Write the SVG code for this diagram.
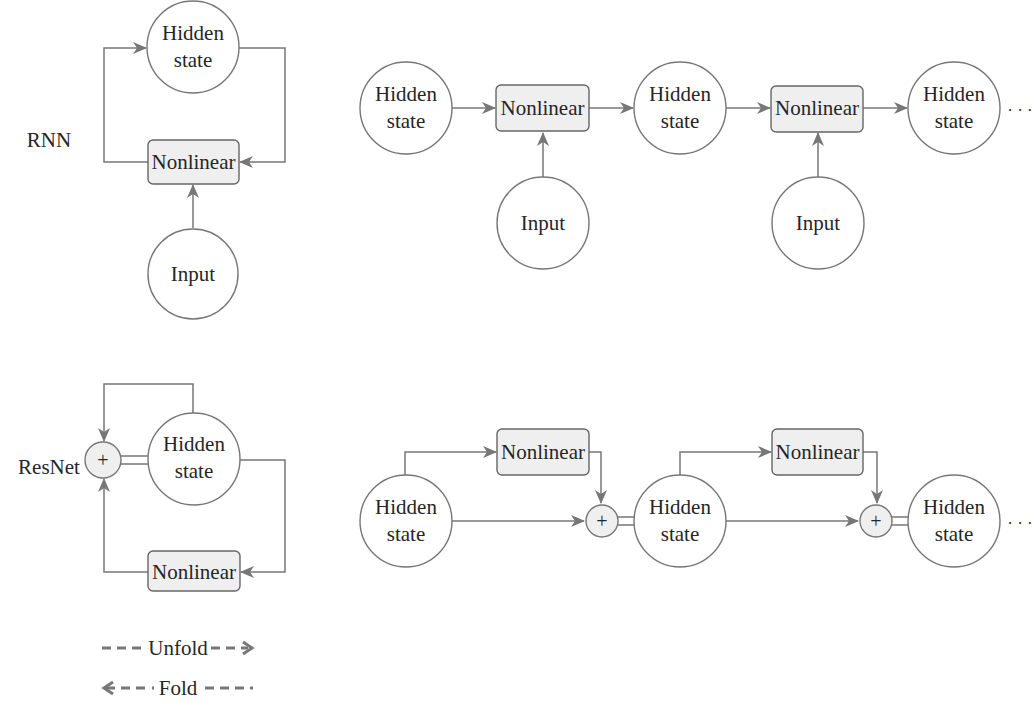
<svg xmlns="http://www.w3.org/2000/svg" width="1034" height="703" viewBox="0 0 1034 703">
<style>
.c{fill:#fff;stroke:#777;stroke-width:1.4}
.b{fill:#efefef;stroke:#666;stroke-width:1.4}
.p{fill:#efefef;stroke:#777;stroke-width:1.4}
.t{font-family:'Liberation Serif','DejaVu Serif','Times New Roman',serif;font-size:21px;fill:#262626;text-anchor:middle}
.l{fill:none;stroke:#777;stroke-width:1.5}
.d{fill:none;stroke:#777;stroke-width:3;stroke-dasharray:9 6}
</style>
<defs>
<marker id="ah" markerWidth="14" markerHeight="12" refX="13" refY="6" orient="auto" markerUnits="userSpaceOnUse">
<path d="M0,0 L14,6 L0,12 L4,6 Z" fill="#777"/>
</marker>
</defs>
<rect width="1034" height="703" fill="#fff"/>
<g id="connectors">
<path class="l" d="M148,162 H104 V48 H146" marker-end="url(#ah)"/>
<path class="l" d="M239,48 H285 V162 H240" marker-end="url(#ah)"/>
<path class="l" d="M193,228 V185" marker-end="url(#ah)"/>
<path class="l" d="M193,413 V384 H104 V441" marker-end="url(#ah)"/>
<path class="l" d="M240,460 H285 V572 H241" marker-end="url(#ah)"/>
<path class="l" d="M148,572 H104 V479" marker-end="url(#ah)"/>
<path class="l" d="M121,456 H149 M121,464 H149"/>
<path class="l" d="M452,108 H495" marker-end="url(#ah)"/>
<path class="l" d="M589,108 H633" marker-end="url(#ah)"/>
<path class="l" d="M543,177 V133" marker-end="url(#ah)"/>
<path class="l" d="M726,108 H770" marker-end="url(#ah)"/>
<path class="l" d="M863,108 H907" marker-end="url(#ah)"/>
<path class="l" d="M818,177 V133" marker-end="url(#ah)"/>
<path class="l" d="M405,475 V452 H496" marker-end="url(#ah)"/>
<path class="l" d="M589,452 H601 V503" marker-end="url(#ah)"/>
<path class="l" d="M452,521 H584" marker-end="url(#ah)"/>
<path class="l" d="M618,517 H635 M618,525 H635"/>
<path class="l" d="M680,475 V452 H771" marker-end="url(#ah)"/>
<path class="l" d="M863,452 H877 V503" marker-end="url(#ah)"/>
<path class="l" d="M726,521 H858" marker-end="url(#ah)"/>
<path class="l" d="M892,517 H909 M892,525 H909"/>
</g>
<g id="label-rnn"><text class="t" font-family="Liberation Serif" x="49" y="147">RNN</text></g>
<g id="label-resnet"><text class="t" font-family="Liberation Serif" x="49" y="474">ResNet</text></g>
<g id="rnn-hidden"><circle class="c" cx="193" cy="47" r="46"/><text class="t" x="193" y="40">Hidden</text><text class="t" x="193" y="67">state</text></g>
<g id="rnn-nonlinear"><rect class="b" x="148" y="140" width="91" height="44" rx="5"/><text class="t" x="193.5" y="169">Nonlinear</text></g>
<g id="rnn-input"><circle class="c" cx="193" cy="274" r="45"/><text class="t" x="193" y="281">Input</text></g>
<g id="res-plus"><circle class="p" cx="103" cy="460" r="18"/><text class="t" x="103" y="467" style="font-size:20px">+</text></g>
<g id="res-hidden"><circle class="c" cx="194" cy="459" r="46"/><text class="t" x="194" y="451">Hidden</text><text class="t" x="194" y="478">state</text></g>
<g id="res-nonlinear"><rect class="b" x="148" y="551" width="92" height="40" rx="5"/><text class="t" x="194" y="579">Nonlinear</text></g>
<g id="u-hidden1"><circle class="c" cx="406" cy="108" r="46"/><text class="t" x="406" y="101">Hidden</text><text class="t" x="406" y="128">state</text></g>
<g id="u-nonlinear1"><rect class="b" x="496" y="85" width="93" height="46" rx="5"/><text class="t" x="542.5" y="115">Nonlinear</text></g>
<g id="u-input1"><circle class="c" cx="543" cy="223" r="46"/><text class="t" x="543" y="230">Input</text></g>
<g id="u-hidden2"><circle class="c" cx="680" cy="108" r="46"/><text class="t" x="680" y="101">Hidden</text><text class="t" x="680" y="128">state</text></g>
<g id="u-nonlinear2"><rect class="b" x="771" y="86" width="92" height="46" rx="5"/><text class="t" x="817" y="115">Nonlinear</text></g>
<g id="u-input2"><circle class="c" cx="818" cy="223" r="46"/><text class="t" x="818" y="230">Input</text></g>
<g id="u-hidden3"><circle class="c" cx="954" cy="108" r="46"/><text class="t" x="954" y="101">Hidden</text><text class="t" x="954" y="128">state</text></g>
<g id="u-dots"><text class="t" x="1020" y="116" style="font-size:17px">· · ·</text></g>
<g id="r-hidden1"><circle class="c" cx="406" cy="521" r="46"/><text class="t" x="406" y="514">Hidden</text><text class="t" x="406" y="541">state</text></g>
<g id="r-nonlinear1"><rect class="b" x="497" y="429" width="92" height="46" rx="5"/><text class="t" x="543" y="459">Nonlinear</text></g>
<g id="r-plus1"><circle class="p" cx="602" cy="521" r="16"/><text class="t" x="602" y="528" style="font-size:20px">+</text></g>
<g id="r-hidden2"><circle class="c" cx="680" cy="521" r="46"/><text class="t" x="680" y="514">Hidden</text><text class="t" x="680" y="541">state</text></g>
<g id="r-nonlinear2"><rect class="b" x="772" y="429" width="91" height="46" rx="5"/><text class="t" x="817.5" y="459">Nonlinear</text></g>
<g id="r-plus2"><circle class="p" cx="876" cy="521" r="16"/><text class="t" x="876" y="528" style="font-size:20px">+</text></g>
<g id="r-hidden3"><circle class="c" cx="954" cy="521" r="46"/><text class="t" x="954" y="514">Hidden</text><text class="t" x="954" y="541">state</text></g>
<g id="r-dots"><text class="t" x="1020" y="529" style="font-size:17px">· · ·</text></g>
<g id="legend">
<path class="d" d="M102,648 H144"/>
<text class="t" x="178" y="655">Unfold</text>
<path class="d" d="M211,648 H248"/>
<path d="M243,642 L252,648 L243,654" fill="none" stroke="#777" stroke-width="3"/>
<path d="M113,682 L104,688 L113,694" fill="none" stroke="#777" stroke-width="3"/>
<path class="d" d="M106,688 H155" style="stroke-dasharray:9 6 9 6 9 7 2 20"/>
<text class="t" x="178" y="695">Fold</text>
<path class="d" d="M205,688 H253"/>
</g>
</svg>
